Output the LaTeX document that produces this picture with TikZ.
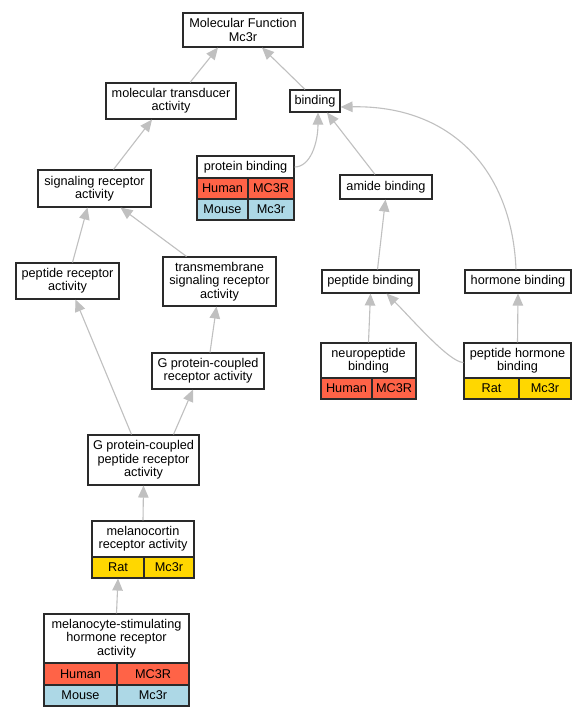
\documentclass[tikz,border=0pt]{standalone}
\usepackage{fontspec}
\setmainfont{Liberation Sans}
\usetikzlibrary{arrows.meta}
\definecolor{edgegray}{HTML}{C0C0C0}
\definecolor{tomatoc}{HTML}{FF6347}
\definecolor{lbluec}{HTML}{ADD8E6}
\definecolor{goldc}{HTML}{FFD700}
\definecolor{boxline}{HTML}{2A2A2A}
\begin{document}
\begin{tikzpicture}[x=1bp,y=-1bp,
  every node/.style={font=\fontsize{12.7bp}{13.4bp}\selectfont},
  box/.style={draw=boxline, line width=1.1bp, fill=white, align=center, inner sep=0pt},
  cell/.style={draw=boxline, line width=1.1bp, align=center, inner sep=0pt, minimum height=21bp},
  edge/.style={draw=edgegray, line width=1.1bp, -{Triangle[length=12bp,width=10.5bp]}}
]
\fill[white] (0,0) rectangle (587,717);
\useasboundingbox (0,0) rectangle (587,717);

% plain boxes
\node[box, minimum width=120bp, minimum height=34bp] (mf) at (243,30) {Molecular Function\\Mc3r};
\node[box, minimum width=130bp, minimum height=36bp] (trans) at (171,101) {molecular transducer\\activity};
\node[box, minimum width=50bp, minimum height=22bp] (bind) at (315,101) {binding};
\node[box, minimum width=92bp, minimum height=24bp] (amide) at (386,187) {amide binding};
\node[box, minimum width=113bp, minimum height=37bp] (sig) at (94.5,188.5) {signaling receptor\\activity};
\node[box, minimum width=103bp, minimum height=36bp] (pr) at (67.5,281) {peptide receptor\\activity};
\node[box, minimum width=113bp, minimum height=49bp] (tm) at (219.5,281.5) {transmembrane\\signaling receptor\\activity};
\node[box, minimum width=97bp, minimum height=23bp] (pepb) at (370.5,281.5) {peptide binding};
\node[box, minimum width=106bp, minimum height=23bp] (hb) at (518,281.5) {hormone binding};
\node[box, minimum width=112bp, minimum height=36bp] (gpcr) at (208,371) {G protein-coupled\\receptor activity};
\node[box, minimum width=111bp, minimum height=50bp] (gpcpr) at (143.5,460) {G protein-coupled\\peptide receptor\\activity};

% protein binding table
\node[box, minimum width=97bp, minimum height=22bp] (pb) at (245.5,167) {protein binding};
\node[cell, fill=tomatoc, minimum width=51bp] (pbA) at (222.5,188.5) {Human};
\node[cell, fill=tomatoc, minimum width=46bp] (pbB) at (271,188.5) {MC3R};
\node[cell, fill=lbluec, minimum width=51bp] (pbC) at (222.5,209.5) {Mouse};
\node[cell, fill=lbluec, minimum width=46bp] (pbD) at (271,209.5) {Mc3r};

% neuropeptide binding table
\node[box, minimum width=95bp, minimum height=35bp] (np) at (368.5,360.5) {neuropeptide\\binding};
\node[cell, fill=tomatoc, minimum width=51bp] (npA) at (346.5,388.5) {Human};
\node[cell, fill=tomatoc, minimum width=44bp] (npB) at (394,388.5) {MC3R};

% peptide hormone binding table
\node[box, minimum width=107bp, minimum height=35bp] (ph) at (517.5,360.5) {peptide hormone\\binding};
\node[cell, fill=goldc, minimum width=55bp] (phA) at (491.5,388.5) {Rat};
\node[cell, fill=goldc, minimum width=52bp] (phB) at (545,388.5) {Mc3r};

% melanocortin table
\node[box, minimum width=102bp, minimum height=36bp] (mc) at (143,539) {melanocortin\\receptor activity};
\node[cell, fill=goldc, minimum width=52bp] (mcA) at (118,567.5) {Rat};
\node[cell, fill=goldc, minimum width=50bp] (mcB) at (169,567.5) {Mc3r};

% MSH table
\node[box, minimum width=145bp, minimum height=49bp] (msh) at (116.5,638.5) {melanocyte-stimulating\\hormone receptor\\activity};
\node[cell, fill=tomatoc, minimum width=73bp, minimum height=22bp] (mshA) at (80.5,674) {Human};
\node[cell, fill=tomatoc, minimum width=72bp, minimum height=22bp] (mshB) at (153,674) {MC3R};
\node[cell, fill=lbluec, minimum width=73bp] (mshC) at (80.5,695.5) {Mouse};
\node[cell, fill=lbluec, minimum width=72bp] (mshD) at (153,695.5) {Mc3r};

% edges
\draw[edge] ([xshift=19bp]trans.north) -- ([xshift=-25bp]mf.south);
\draw[edge] ([xshift=-10bp]bind.north) -- ([xshift=19bp]mf.south);
\draw[edge] ([xshift=19bp]sig.north) -- ([xshift=-19bp]trans.south);
\draw[edge] (pb.east) .. controls +(16,0) and +(0,30) .. ([xshift=3bp]bind.south);
\draw[edge] ([xshift=-11bp]amide.north) -- ([xshift=12bp]bind.south);
\draw[edge] ([xshift=-2bp]hb.north) .. controls +(-4,-100) and +(110,-2) .. ([yshift=-6bp]bind.east);
\draw[edge] ([xshift=5bp]pr.north) -- ([xshift=-7bp]sig.south);
\draw[edge] ([xshift=-33bp]tm.north) -- ([xshift=26bp]sig.south);
\draw[edge] ([xshift=7bp]pepb.north) -- ([xshift=15bp]pepb.north |- amide.south);
\draw[edge] ([xshift=2bp]gpcr.north) -- ([xshift=-3bp]tm.south);
\draw[edge] (np.north) -- ([xshift=0bp]pepb.south);
\draw[edge] ([yshift=-2bp]ph.west) .. controls +(-14,0) and +(25,25) .. ([xshift=16bp]pepb.south);
\draw[edge] (ph.north) -- (hb.south);
\draw[edge] ([xshift=-12bp]gpcpr.north) -- ([xshift=8bp]pr.south);
\draw[edge] ([xshift=30bp]gpcpr.north) -- ([xshift=-15bp]gpcr.south);
\draw[edge] (mc.north) -- (gpcpr.south);
\draw[edge] (msh.north) -- (mcA.south);
\end{tikzpicture}
\end{document}
